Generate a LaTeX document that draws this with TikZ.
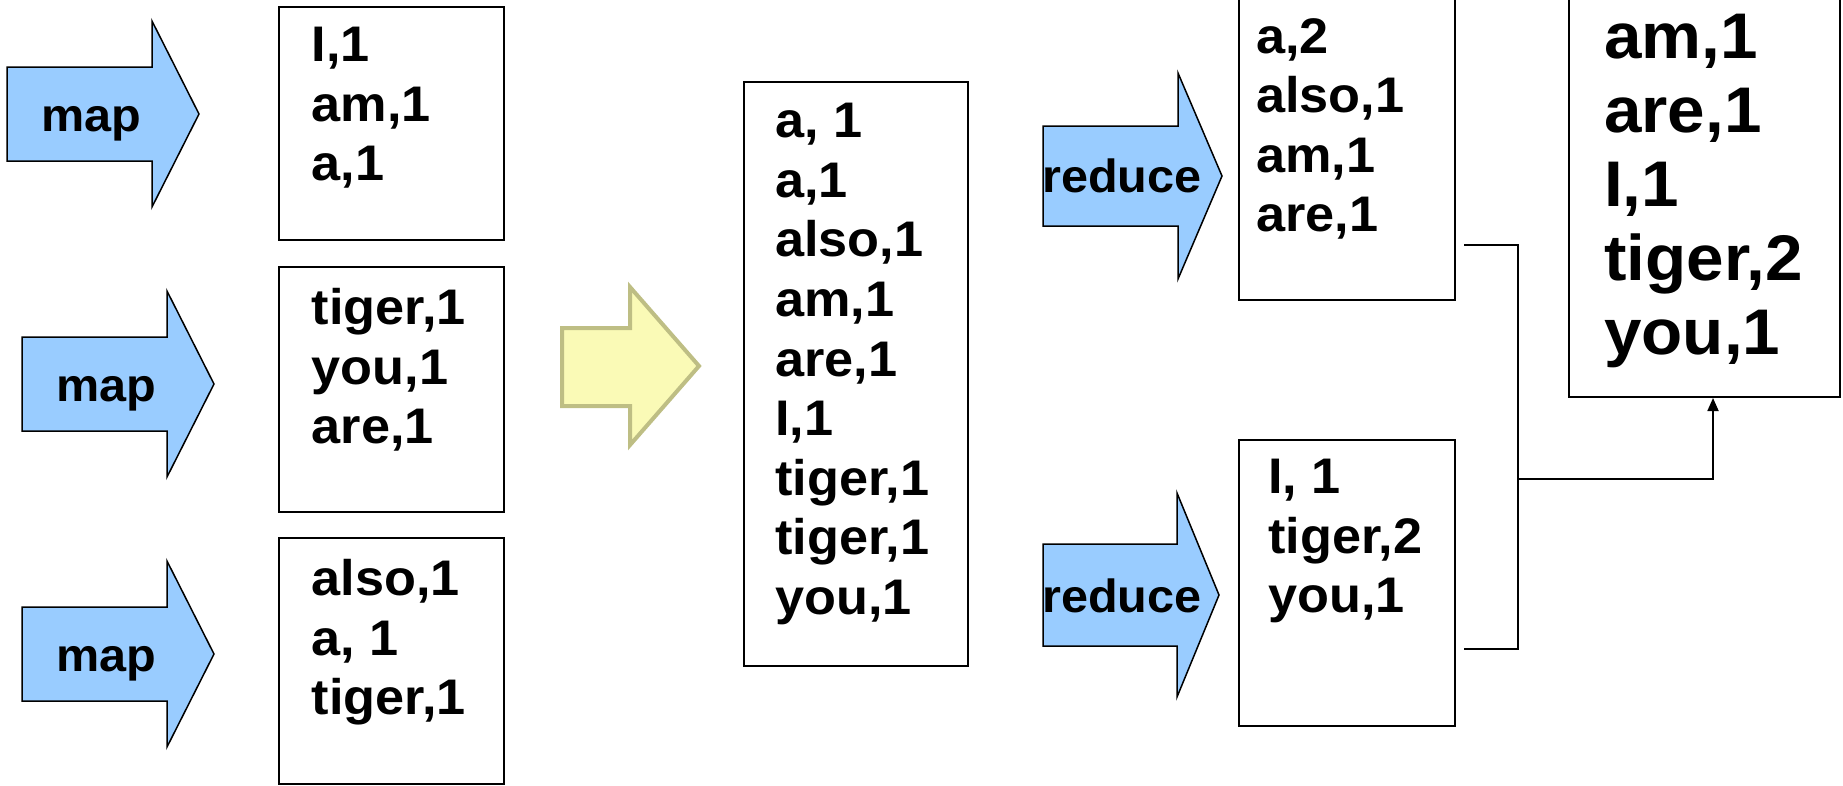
\documentclass[tikz,border=0pt]{standalone}
\usepackage{fontspec}
\setmainfont{Liberation Sans}[FakeStretch=1.045]
\usetikzlibrary{positioning,arrows.meta}

\definecolor{mapblue}{RGB}{153,204,255}
\definecolor{shufyellow}{RGB}{250,250,182}
\definecolor{shufedge}{RGB}{190,190,132}

\begin{document}
\begin{tikzpicture}[
    x=1pt, y=-1pt,
    box/.style={draw, line width=2pt, inner sep=0pt, anchor=north west},
    words/.style={inner sep=0pt, anchor=north west, align=left, font=\bfseries\fontsize{50}{59.6}\selectfont},
    bigwords/.style={words, font=\bfseries\fontsize{64.5}{74}\selectfont},
    arrowtext/.style={inner sep=0pt, anchor=base west, font=\bfseries\fontsize{46.5}{50}\selectfont},
    blockarrow/.style={draw, line width=1.5pt, fill=mapblue, line join=miter},
    shuffle/.style={draw=shufedge, line width=4pt, fill=shufyellow, line join=miter},
    link/.style={draw, line width=1.8pt}
    ]
    \useasboundingbox (0,0) rectangle (1843,785);
    \clip (0,0) rectangle (1843,785);

    \draw[blockarrow] (7,67) -- (152,67) -- (152,21) -- (199,114) -- (152,207) -- (152,161) -- (7,161) -- cycle;
    \draw[blockarrow] (22,337) -- (167,337) -- (167,291) -- (214,384) -- (167,477) -- (167,431) -- (22,431) -- cycle;
    \draw[blockarrow] (22,607) -- (167,607) -- (167,561) -- (214,654) -- (167,747) -- (167,701) -- (22,701) -- cycle;
    \node[arrowtext] (map1) at (41,131) {map};
    \node[arrowtext] (map2) at (56,401) {map};
    \node[arrowtext] (map3) at (56,671) {map};

    \node[box, minimum width=225pt, minimum height=233pt] (kv1) at (278,6) {};
    \node[box, minimum width=225pt, minimum height=245pt] (kv2) at (278,266) {};
    \node[box, minimum width=225pt, minimum height=246pt] (kv3) at (278,537) {};
    \node[words, below right=21pt and 33.5pt of kv1.north west] (kv1list) {I,1\\am,1\\a,1};
    \node[words, below right=22pt and 33.5pt of kv2.north west] (kv2list) {tiger,1\\you,1\\are,1};
    \node[words, below right=22pt and 33.5pt of kv3.north west] (kv3list) {also,1\\a, 1\\tiger,1};

    \draw[shuffle] (562,328) -- (630,328) -- (630,287) -- (699,366) -- (630,445) -- (630,406) -- (562,406) -- cycle;

    \node[box, minimum width=224pt, minimum height=584pt] (sorted) at (743,81) {};
    \node[words, below right=22pt and 32pt of sorted.north west] (sortedlist)
        {a, 1\\a,1\\also,1\\am,1\\are,1\\I,1\\tiger,1\\tiger,1\\you,1};

    \draw[blockarrow] (1043,126) -- (1178,126) -- (1178,73) -- (1222,176) -- (1178,279) -- (1178,226) -- (1043,226) -- cycle;
    \draw[blockarrow] (1043,544) -- (1177,544) -- (1177,493) -- (1219,595) -- (1177,697) -- (1177,646) -- (1043,646) -- cycle;
    \node[arrowtext] (red1) at (1042,192) {reduce};
    \node[arrowtext] (red2) at (1042,612) {reduce};

    \node[box, minimum width=216pt, minimum height=311pt] (part1) at (1238,-12) {};
    \node[box, minimum width=216pt, minimum height=286pt] (part2) at (1238,439) {};
    \node[words, below right=30pt and 18pt of part1.north west] (part1list) {a,2\\also,1\\am,1\\are,1};
    \node[words, below right=20pt and 30pt of part2.north west] (part2list) {I, 1\\tiger,2\\you,1};

    \node[box, minimum width=271pt, minimum height=408pt] (final) at (1568,-12) {};
    \node[bigwords, below right=26pt and 36pt of final.north west] (finallist)
        {am,1\\are,1\\I,1\\tiger,2\\you,1};

    \coordinate (tap1) at (1464,245);
    \coordinate (tap2) at (1464,649);
    \coordinate (merge) at (1518,479);
    \draw[link] (tap1) -| (merge) |- (tap2);
    \draw[link, -{Triangle[length=13pt, width=11pt]}] (merge) -| ([xshift=8.5pt]final.south);
\end{tikzpicture}
\end{document}
